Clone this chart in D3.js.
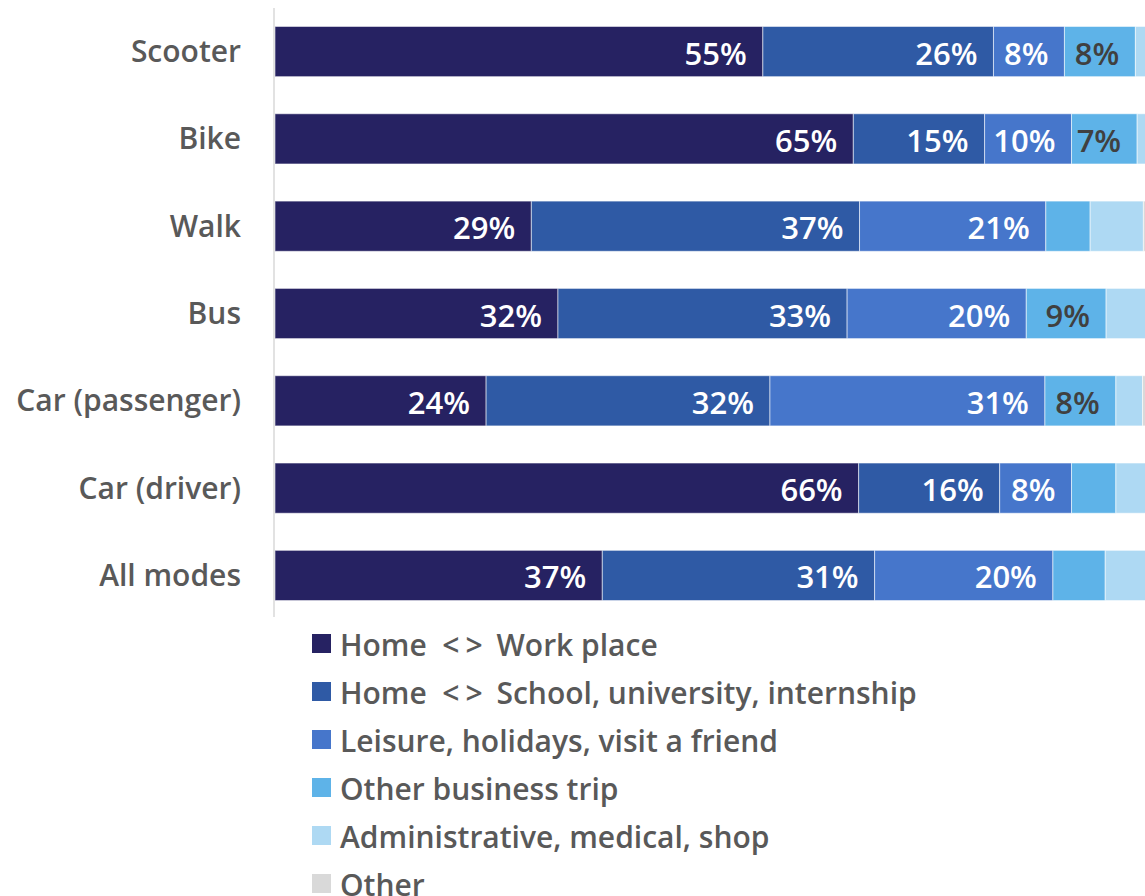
<!DOCTYPE html>
<html><head><meta charset="utf-8">
<script src="https://cdn.jsdelivr.net/npm/d3@7"></script>
<style>body{margin:0;background:#fff;overflow:hidden}svg{display:block}</style>
</head><body>
<script>
const categories = ["Scooter","Bike","Walk","Bus","Car (passenger)","Car (driver)","All modes"];
const seriesNames = ["Home  <> Work place","Home  <> School, university, internship","Leisure, holidays, visit a friend","Other business trip","Administrative, medical, shop","Other"];
const workPlace = [55.0, 65.2, 28.9, 31.9, 23.8, 65.8, 36.9];
const school    = [26.0, 14.8, 37.0, 32.6, 32.0, 15.9, 30.7];
const leisure   = [8.0, 9.8, 21.0, 20.2, 31.0, 8.1, 20.1];
const business  = [8.0, 7.4, 5.0, 9.0, 8.0, 5.0, 5.9];
const admin     = [2.0, 2.0, 6.0, 5.0, 3.0, 4.0, 5.0];
const other     = [1.0, 1.0, 2.0, 1.3, 2.0, 1.2, 1.4];
const colors = ["#262262","#2F5AA5","#4676CB","#5EB3E8","#AED9F3","#D9D9D9"];
const labelColors = ["#ffffff","#ffffff","#ffffff","#404040","#404040","#404040"];

const W = 1145, H = 896;
const svg = d3.select("body").append("svg").attr("width", W).attr("height", H);

const rows = categories.map((c,i)=>({cat:c, vals:[workPlace[i],school[i],leisure[i],business[i],admin[i],other[i]]}));
const x = d3.scaleLinear().domain([0,100]).range([275, 275+887]);
const y = d3.scaleBand().domain(categories).range([9, 618]).paddingInner(0.425).paddingOuter(0.2);

const font = "'Open Sans', 'Noto Sans', sans-serif";

rows.forEach(r=>{
  let acc = 0;
  r.vals.forEach((v,k)=>{
    const x0 = x(acc), x1 = x(acc+v);
    acc += v;
    svg.append("rect").attr("x", x0).attr("y", y(r.cat)).attr("width", x1-x0).attr("height", y.bandwidth())
      .attr("fill", colors[k]).attr("stroke", "#ffffff").attr("stroke-opacity", 0.55).attr("stroke-width", 1);
    if (v >= 6.5 && k < 4) {
      svg.append("text").attr("x", x1 - 16).attr("y", y(r.cat) + y.bandwidth()/2 + 1)
        .attr("text-anchor","end").attr("dominant-baseline","central")
        .attr("font-family", font).attr("font-size", 31).attr("font-weight", 600)
        .attr("fill", labelColors[k]).text(d3.format(".0f")(v) + "%");
    }
  });
});

// y axis line
svg.append("line").attr("x1", 274).attr("x2", 274).attr("y1", 8).attr("y2", 617)
  .attr("stroke", "#d9d9d9").attr("stroke-width", 1.5);

// category labels
const yAxis = d3.axisLeft(y).tickSize(0).tickPadding(0);
const ga = svg.append("g").attr("transform", "translate(241,1)").call(yAxis);
ga.select(".domain").remove();
ga.selectAll("text").attr("font-family", font).attr("font-size", 30).attr("font-weight", 600).attr("fill", "#595959");

// legend
const lg = svg.append("g");
seriesNames.forEach((n,k)=>{
  const cy = 643 + k*48;
  lg.append("rect").attr("x", 312).attr("y", cy-9).attr("width", 19).attr("height", 19).attr("fill", colors[k]);
  const t = lg.append("text").attr("x", 340).attr("y", cy + 1).attr("dominant-baseline","central")
    .attr("font-family", font).attr("font-size", 30).attr("font-weight", 600).attr("fill", "#595959")
    .attr("xml:space","preserve").style("white-space","pre");
  const parts = n.split("<>");
  if (parts.length === 2) {
    t.append("tspan").text(parts[0]);
    t.append("tspan").attr("letter-spacing", 6).text("<>");
    t.append("tspan").text(parts[1]);
  } else {
    t.text(n);
  }
});
</script>
</body></html>
